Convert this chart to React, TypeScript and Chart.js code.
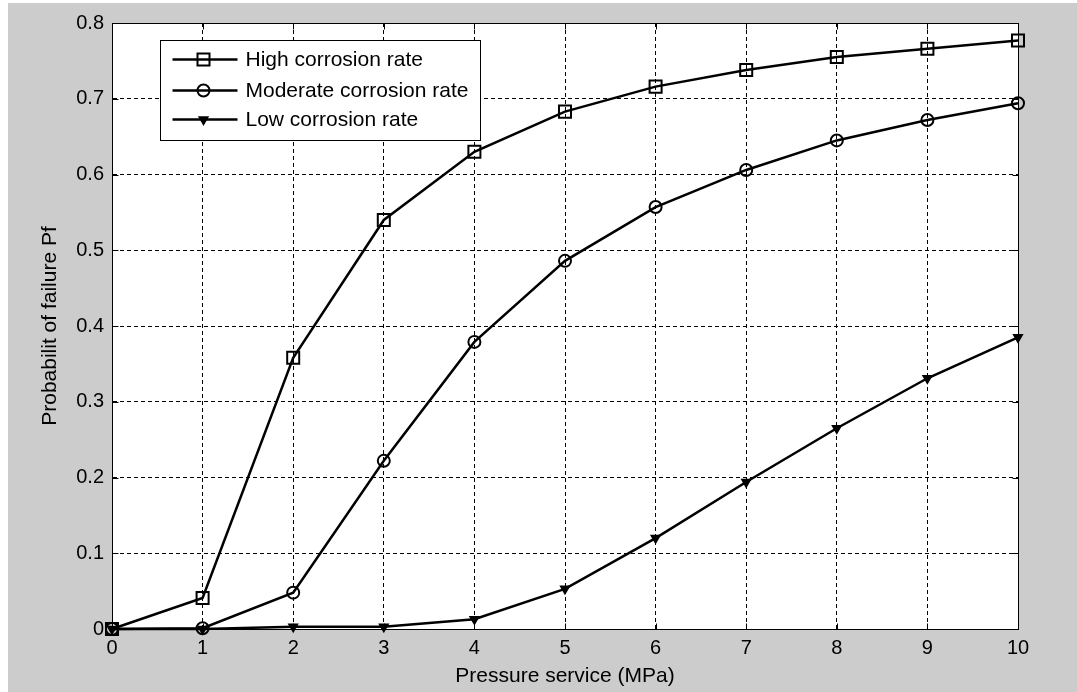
import React, { useEffect, useRef } from "react";
import { Chart, registerables } from "chart.js";

Chart.register(...registerables);

// ---- data ----
const pressure = [0, 1, 2, 3, 4, 5, 6, 7, 8, 9, 10];
const highRate = [0, 0.041, 0.358, 0.54, 0.63, 0.683, 0.716, 0.738, 0.755, 0.766, 0.777];
const moderateRate = [0, 0.001, 0.048, 0.222, 0.379, 0.486, 0.557, 0.606, 0.645, 0.672, 0.694];
const lowRate = [0, 0, 0.003, 0.003, 0.013, 0.053, 0.12, 0.194, 0.265, 0.331, 0.385];
const seriesLabels = ["High corrosion rate", "Moderate corrosion rate", "Low corrosion rate"];
const xTickLabels = ["0", "1", "2", "3", "4", "5", "6", "7", "8", "9", "10"];
const yTickLabels = ["0", "0.1", "0.2", "0.3", "0.4", "0.5", "0.6", "0.7", "0.8"];
const xTitle = "Pressure service (MPa)";
const yTitle = "Probabilit of failure Pf";

const FONT = "'Liberation Sans', Arial, sans-serif";
const W = 1069;
const H = 689;

type Marker = "rect" | "circle" | "triangle";
const markers: Marker[] = ["rect", "circle", "triangle"];

function drawMarker(ctx: CanvasRenderingContext2D, kind: Marker, x: number, y: number) {
  ctx.save();
  ctx.strokeStyle = "#000";
  ctx.fillStyle = "#000";
  ctx.lineWidth = 2;
  ctx.beginPath();
  if (kind === "rect") {
    ctx.rect(x - 6, y - 6, 12, 12);
    ctx.stroke();
  } else if (kind === "circle") {
    ctx.arc(x, y, 6, 0, Math.PI * 2);
    ctx.stroke();
  } else {
    const r = 5;
    ctx.moveTo(x, y + r);
    ctx.lineTo(x - r * 0.866, y - r * 0.5);
    ctx.lineTo(x + r * 0.866, y - r * 0.5);
    ctx.closePath();
    ctx.lineWidth = 1.5;
    ctx.fill();
    ctx.stroke();
  }
  ctx.restore();
}

const matlabFrame = {
  id: "matlabFrame",
  beforeDraw(chart: any) {
    const { ctx, chartArea: a } = chart;
    ctx.save();
    ctx.fillStyle = "#cccccc";
    ctx.fillRect(0, 0, chart.width, chart.height);
    ctx.fillStyle = "#ffffff";
    ctx.fillRect(a.left, a.top, a.right - a.left, a.bottom - a.top);
    ctx.restore();
  },
  afterDraw(chart: any) {
    const { ctx, chartArea: a, scales } = chart;
    ctx.save();
    ctx.strokeStyle = "#000";
    ctx.lineWidth = 1;
    ctx.setLineDash([]);
    const L = Math.round(a.left) + 0.5;
    const R = Math.round(a.right) + 0.5;
    const T = Math.round(a.top) + 0.5;
    const B = Math.round(a.bottom) + 0.5;
    ctx.beginPath();
    const tl = 6;
    scales.x.ticks.forEach((t: any) => {
      const px = Math.round(scales.x.getPixelForValue(t.value)) + 0.5;
      ctx.moveTo(px, B);
      ctx.lineTo(px, B - tl);
      ctx.moveTo(px, T);
      ctx.lineTo(px, T + tl);
    });
    scales.y.ticks.forEach((t: any) => {
      const py = Math.round(scales.y.getPixelForValue(t.value)) + 0.5;
      ctx.moveTo(L, py);
      ctx.lineTo(L + tl, py);
      ctx.moveTo(R, py);
      ctx.lineTo(R - tl, py);
    });
    ctx.stroke();
    ctx.strokeRect(L, T, R - L, B - T);

    // legend box
    const lx = Math.round(a.left) + 48.5;
    const ly = Math.round(a.top) + 17.5;
    const lw = 320;
    const lh = 100;
    ctx.fillStyle = "#fff";
    ctx.fillRect(lx, ly, lw, lh);
    ctx.strokeRect(lx, ly, lw, lh);
    const rows = [19, 50, 79];
    ctx.font = `21px ${FONT}`;
    ctx.textBaseline = "middle";
    ctx.textAlign = "left";
    chart.data.datasets.forEach((ds: any, i: number) => {
      const cy = ly + rows[i];
      ctx.save();
      ctx.lineWidth = 2.5;
      ctx.strokeStyle = "#000";
      ctx.beginPath();
      ctx.moveTo(lx + 12, cy);
      ctx.lineTo(lx + 77, cy);
      ctx.stroke();
      ctx.restore();
      drawMarker(ctx, markers[i], lx + 43, cy);
      ctx.fillStyle = "#000";
      ctx.fillText(ds.label, lx + 85, cy + 1);
    });
    ctx.restore();
  },
};

export default function App() {
  const ref = useRef<HTMLCanvasElement | null>(null);
  useEffect(() => {
    if (!ref.current) return;
    const mk = (vals: number[]) => pressure.map((x, i) => ({ x, y: vals[i] }));
    const base = {
      borderColor: "#000",
      borderWidth: 2.5,
      tension: 0,
      fill: false,
      clip: false as any,
      pointBorderColor: "#000",
      pointBorderWidth: 2,
      pointHoverRadius: 0,
    };
    const chart = new Chart(ref.current, {
      type: "line",
      data: {
        datasets: [
          {
            ...base,
            label: seriesLabels[0],
            data: mk(highRate),
            pointStyle: "rect",
            pointRadius: 8.5,
            pointBackgroundColor: "rgba(0,0,0,0)",
          },
          {
            ...base,
            label: seriesLabels[1],
            data: mk(moderateRate),
            pointStyle: "circle",
            pointRadius: 6,
            pointBackgroundColor: "rgba(0,0,0,0)",
          },
          {
            ...base,
            label: seriesLabels[2],
            data: mk(lowRate),
            pointStyle: "triangle",
            pointRotation: 180,
            pointRadius: 5,
            pointBorderWidth: 1.5,
            pointBackgroundColor: "#000",
          },
        ],
      },
      options: {
        animation: false,
        responsive: false,
        devicePixelRatio: 1,
        events: [],
        layout: { padding: { left: 0, top: 20, right: 59, bottom: 0 } },
        plugins: {
          legend: { display: false },
          tooltip: { enabled: false },
        },
        scales: {
          x: {
            type: "linear",
            min: 0,
            max: 10,
            afterFit: (s: any) => {
              s.height = 63;
            },
            afterBuildTicks: (s: any) => {
              s.ticks = pressure.map((v) => ({ value: v }));
            },
            ticks: {
              autoSkip: false,
              maxRotation: 0,
              padding: 7,
              color: "#000",
              font: { family: FONT, size: 20 },
              callback: (_v: any, i: number) => xTickLabels[i],
            },
            grid: {
              color: "#000",
              lineWidth: 1,
              drawTicks: false,
            },
            border: { display: true, color: "#000", dash: [4, 3] },
            title: {
              display: true,
              text: xTitle,
              color: "#000",
              font: { family: FONT, size: 21 },
              padding: { top: 0, bottom: 3 },
            },
          },
          y: {
            type: "linear",
            min: 0,
            max: 0.8,
            afterFit: (s: any) => {
              s.width = 104;
            },
            afterBuildTicks: (s: any) => {
              s.ticks = yTickLabels.map((l) => ({ value: parseFloat(l) }));
            },
            ticks: {
              autoSkip: false,
              padding: 8,
              color: "#000",
              font: { family: FONT, size: 20 },
              callback: (_v: any, i: number) => yTickLabels[i],
            },
            grid: {
              color: "#000",
              lineWidth: 1,
              drawTicks: false,
            },
            border: { display: true, color: "#000", dash: [4, 3] },
            title: {
              display: true,
              text: yTitle,
              color: "#000",
              font: { family: FONT, size: 21 },
              padding: { top: 30, bottom: 0 },
            },
          },
        },
      },
      plugins: [matlabFrame],
    });
    return () => chart.destroy();
  }, []);

  return (
    <div
      style={{
        position: "fixed",
        left: 8,
        top: 3,
        width: W,
        height: H,
        background: "#cccccc",
      }}
    >
      <canvas ref={ref} width={W} height={H} style={{ display: "block", width: W, height: H }} />
    </div>
  );
}
